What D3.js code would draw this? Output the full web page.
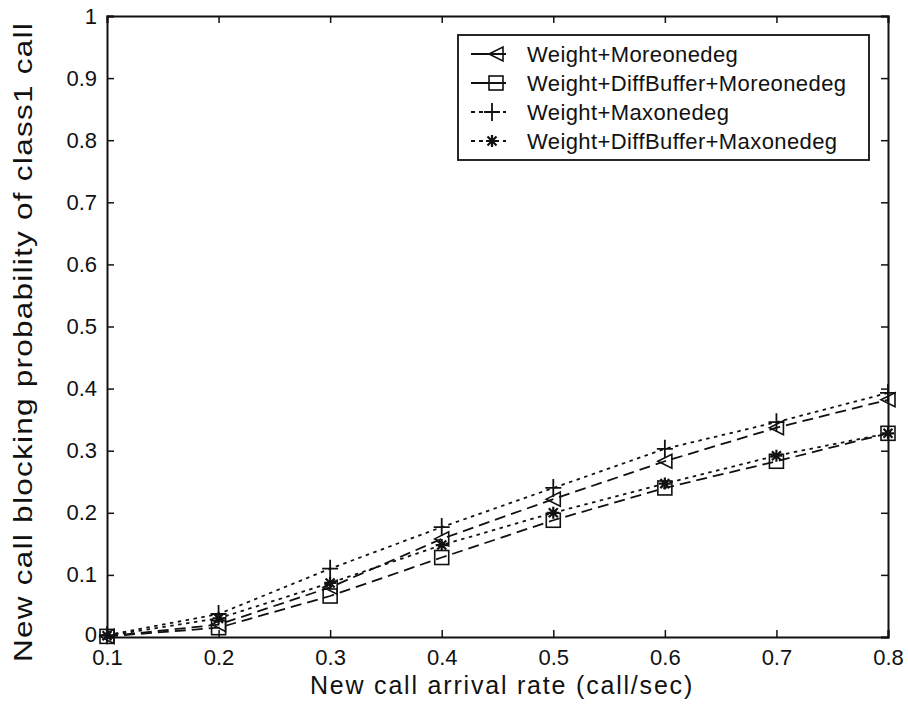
<!DOCTYPE html>
<html>
<head>
<meta charset="utf-8">
<script src="https://cdn.jsdelivr.net/npm/d3@7"></script>
<style>
  body { margin: 0; background: #fff; }
  svg { display: block; }
  text { font-family: "Liberation Sans", Arial, Helvetica, sans-serif; fill: #111; }
</style>
</head>
<body>
<script>
// values
var rates = [0.1, 0.2, 0.3, 0.4, 0.5, 0.6, 0.7, 0.8];
var moreone = [0.001, 0.020, 0.080, 0.158, 0.222, 0.283, 0.337, 0.382];
var diffMoreone = [0.001, 0.015, 0.066, 0.128, 0.188, 0.240, 0.283, 0.328];
var maxone = [0.003, 0.037, 0.110, 0.177, 0.240, 0.303, 0.346, 0.393];
var diffMaxone = [0.002, 0.030, 0.087, 0.148, 0.200, 0.247, 0.292, 0.328];
var seriesNames = ["Weight+Moreonedeg", "Weight+DiffBuffer+Moreonedeg",
                   "Weight+Maxonedeg", "Weight+DiffBuffer+Maxonedeg"];
var xTicks = [0.1, 0.2, 0.3, 0.4, 0.5, 0.6, 0.7, 0.8];
var yTicks = [0, 0.1, 0.2, 0.3, 0.4, 0.5, 0.6, 0.7, 0.8, 0.9, 1];

var W = 908, H = 708;
var margin = {top: 16, right: 20, bottom: 71, left: 107},
    width = W - margin.left - margin.right,
    height = H - margin.top - margin.bottom;

var x = d3.scaleLinear().domain([0.1, 0.8]).range([0, width]),
    y = d3.scaleLinear().domain([0, 1]).range([height, 0]);

var svg = d3.select("body").append("svg")
    .attr("width", W)
    .attr("height", H);

var g = svg.append("g")
    .attr("transform", "translate(" + margin.left + "," + margin.top + ")");

var tickLen = 7;

// axes: ticks inward on all four sides
var xAxis = d3.axisBottom(x).tickValues(xTicks).tickSize(-tickLen).tickPadding(12)
    .tickFormat(function(d) { return d3.format(".1f")(d); });
var xTop = d3.axisTop(x).tickValues(xTicks).tickSize(-tickLen).tickFormat("");
var yAxis = d3.axisLeft(y).tickValues(yTicks).tickSize(-tickLen).tickPadding(10)
    .tickFormat(function(d) { return d === 0 ? "0" : d === 1 ? "1" : d3.format(".1f")(d); });
var yRight = d3.axisRight(y).tickValues(yTicks).tickSize(-tickLen).tickFormat("");

g.append("g").attr("class", "axis").attr("transform", "translate(0," + height + ")").call(xAxis);
g.append("g").attr("class", "axis").call(xTop);
var yG = g.append("g").attr("class", "axis").call(yAxis);
g.append("g").attr("class", "axis").attr("transform", "translate(" + width + ",0)").call(yRight);

g.selectAll(".axis .domain").attr("stroke", "#111").attr("stroke-width", 2);
g.selectAll(".axis .tick line").attr("stroke", "#111").attr("stroke-width", 1.5);
g.selectAll(".axis text").style("font-size", "22px").attr("fill", "#111");

// lift the "0" label a little so it clears the "0.1" below it
yG.selectAll(".tick text").filter(function(d) { return d === 0; }).attr("y", -3);

// axis titles
svg.append("text")
    .attr("x", 502)
    .attr("y", 694)
    .attr("text-anchor", "middle")
    .style("font-size", "25px")
    .style("letter-spacing", "1.8px")
    .text("New call arrival rate (call/sec)");

svg.append("text")
    .attr("transform", "translate(32,342) rotate(-90) scale(1.26,1)")
    .attr("text-anchor", "middle")
    .style("font-size", "25px")
    .style("letter-spacing", "1px")
    .text("New call blocking probability of class1 call");

// marker shapes
function marker(sel, type) {
  if (type === "tri") {
    sel.append("path").attr("d", "M-7,0L7,-7L7,7Z")
      .attr("fill", "none").attr("stroke", "#111").attr("stroke-width", 1.6);
  } else if (type === "sq") {
    sel.append("rect").attr("x", -7).attr("y", -7).attr("width", 14).attr("height", 14)
      .attr("fill", "none").attr("stroke", "#111").attr("stroke-width", 1.6);
  } else if (type === "plus") {
    sel.append("path").attr("d", "M-8,0H8M0,-9V9")
      .attr("fill", "none").attr("stroke", "#111").attr("stroke-width", 1.8);
  } else {
    sel.append("path").attr("d", "M-6,0H6M0,-6V6M-4.5,-4.5L4.5,4.5M-4.5,4.5L4.5,-4.5")
      .attr("fill", "none").attr("stroke", "#111").attr("stroke-width", 2.2);
  }
}

var series = [
  {name: seriesNames[0], values: moreone, dash: "11,6", mark: "tri"},
  {name: seriesNames[1], values: diffMoreone, dash: "11,6", mark: "sq"},
  {name: seriesNames[2], values: maxone, dash: "3.5,4.5", mark: "plus"},
  {name: seriesNames[3], values: diffMaxone, dash: "3.5,4.5", mark: "star"}
];

var line = d3.line()
    .x(function(d, i) { return x(rates[i]); })
    .y(function(d) { return y(d); });

series.forEach(function(s) {
  g.append("path")
    .datum(s.values)
    .attr("d", line)
    .attr("fill", "none")
    .attr("stroke", "#111")
    .attr("stroke-width", 1.8)
    .attr("stroke-dasharray", s.dash);

  g.selectAll(".m-" + s.mark)
    .data(s.values)
    .enter().append("g")
      .attr("class", "m-" + s.mark)
      .attr("transform", function(d, i) { return "translate(" + x(rates[i]) + "," + y(d) + ")"; })
      .each(function() { marker(d3.select(this), s.mark); });
});

// legend
var legend = svg.append("g").attr("transform", "translate(458,35)");
legend.append("rect")
    .attr("width", 411).attr("height", 125)
    .attr("fill", "#fff").attr("stroke", "#111").attr("stroke-width", 1.8);

var item = legend.selectAll(".legend")
    .data(series)
  .enter().append("g")
    .attr("class", "legend")
    .attr("transform", function(d, i) { return "translate(0," + (19 + i * 29) + ")"; });

item.append("line")
    .attr("x1", 13).attr("x2", 48)
    .attr("stroke", "#111").attr("stroke-width", 1.8)
    .attr("stroke-dasharray", function(d) { return d.mark === "tri" || d.mark === "sq" ? "none" : "4,4"; });

item.each(function(d) {
  var cx = d.mark === "tri" || d.mark === "sq" ? 38 : 34;
  var m = d3.select(this).append("g").attr("transform", "translate(" + cx + ",0)");
  marker(m, d.mark);
});

item.append("text")
    .attr("x", 69)
    .attr("dy", "0.36em")
    .style("font-size", "22px")
    .style("letter-spacing", "0.4px")
    .text(function(d) { return d.name; });
</script>
</body>
</html>
